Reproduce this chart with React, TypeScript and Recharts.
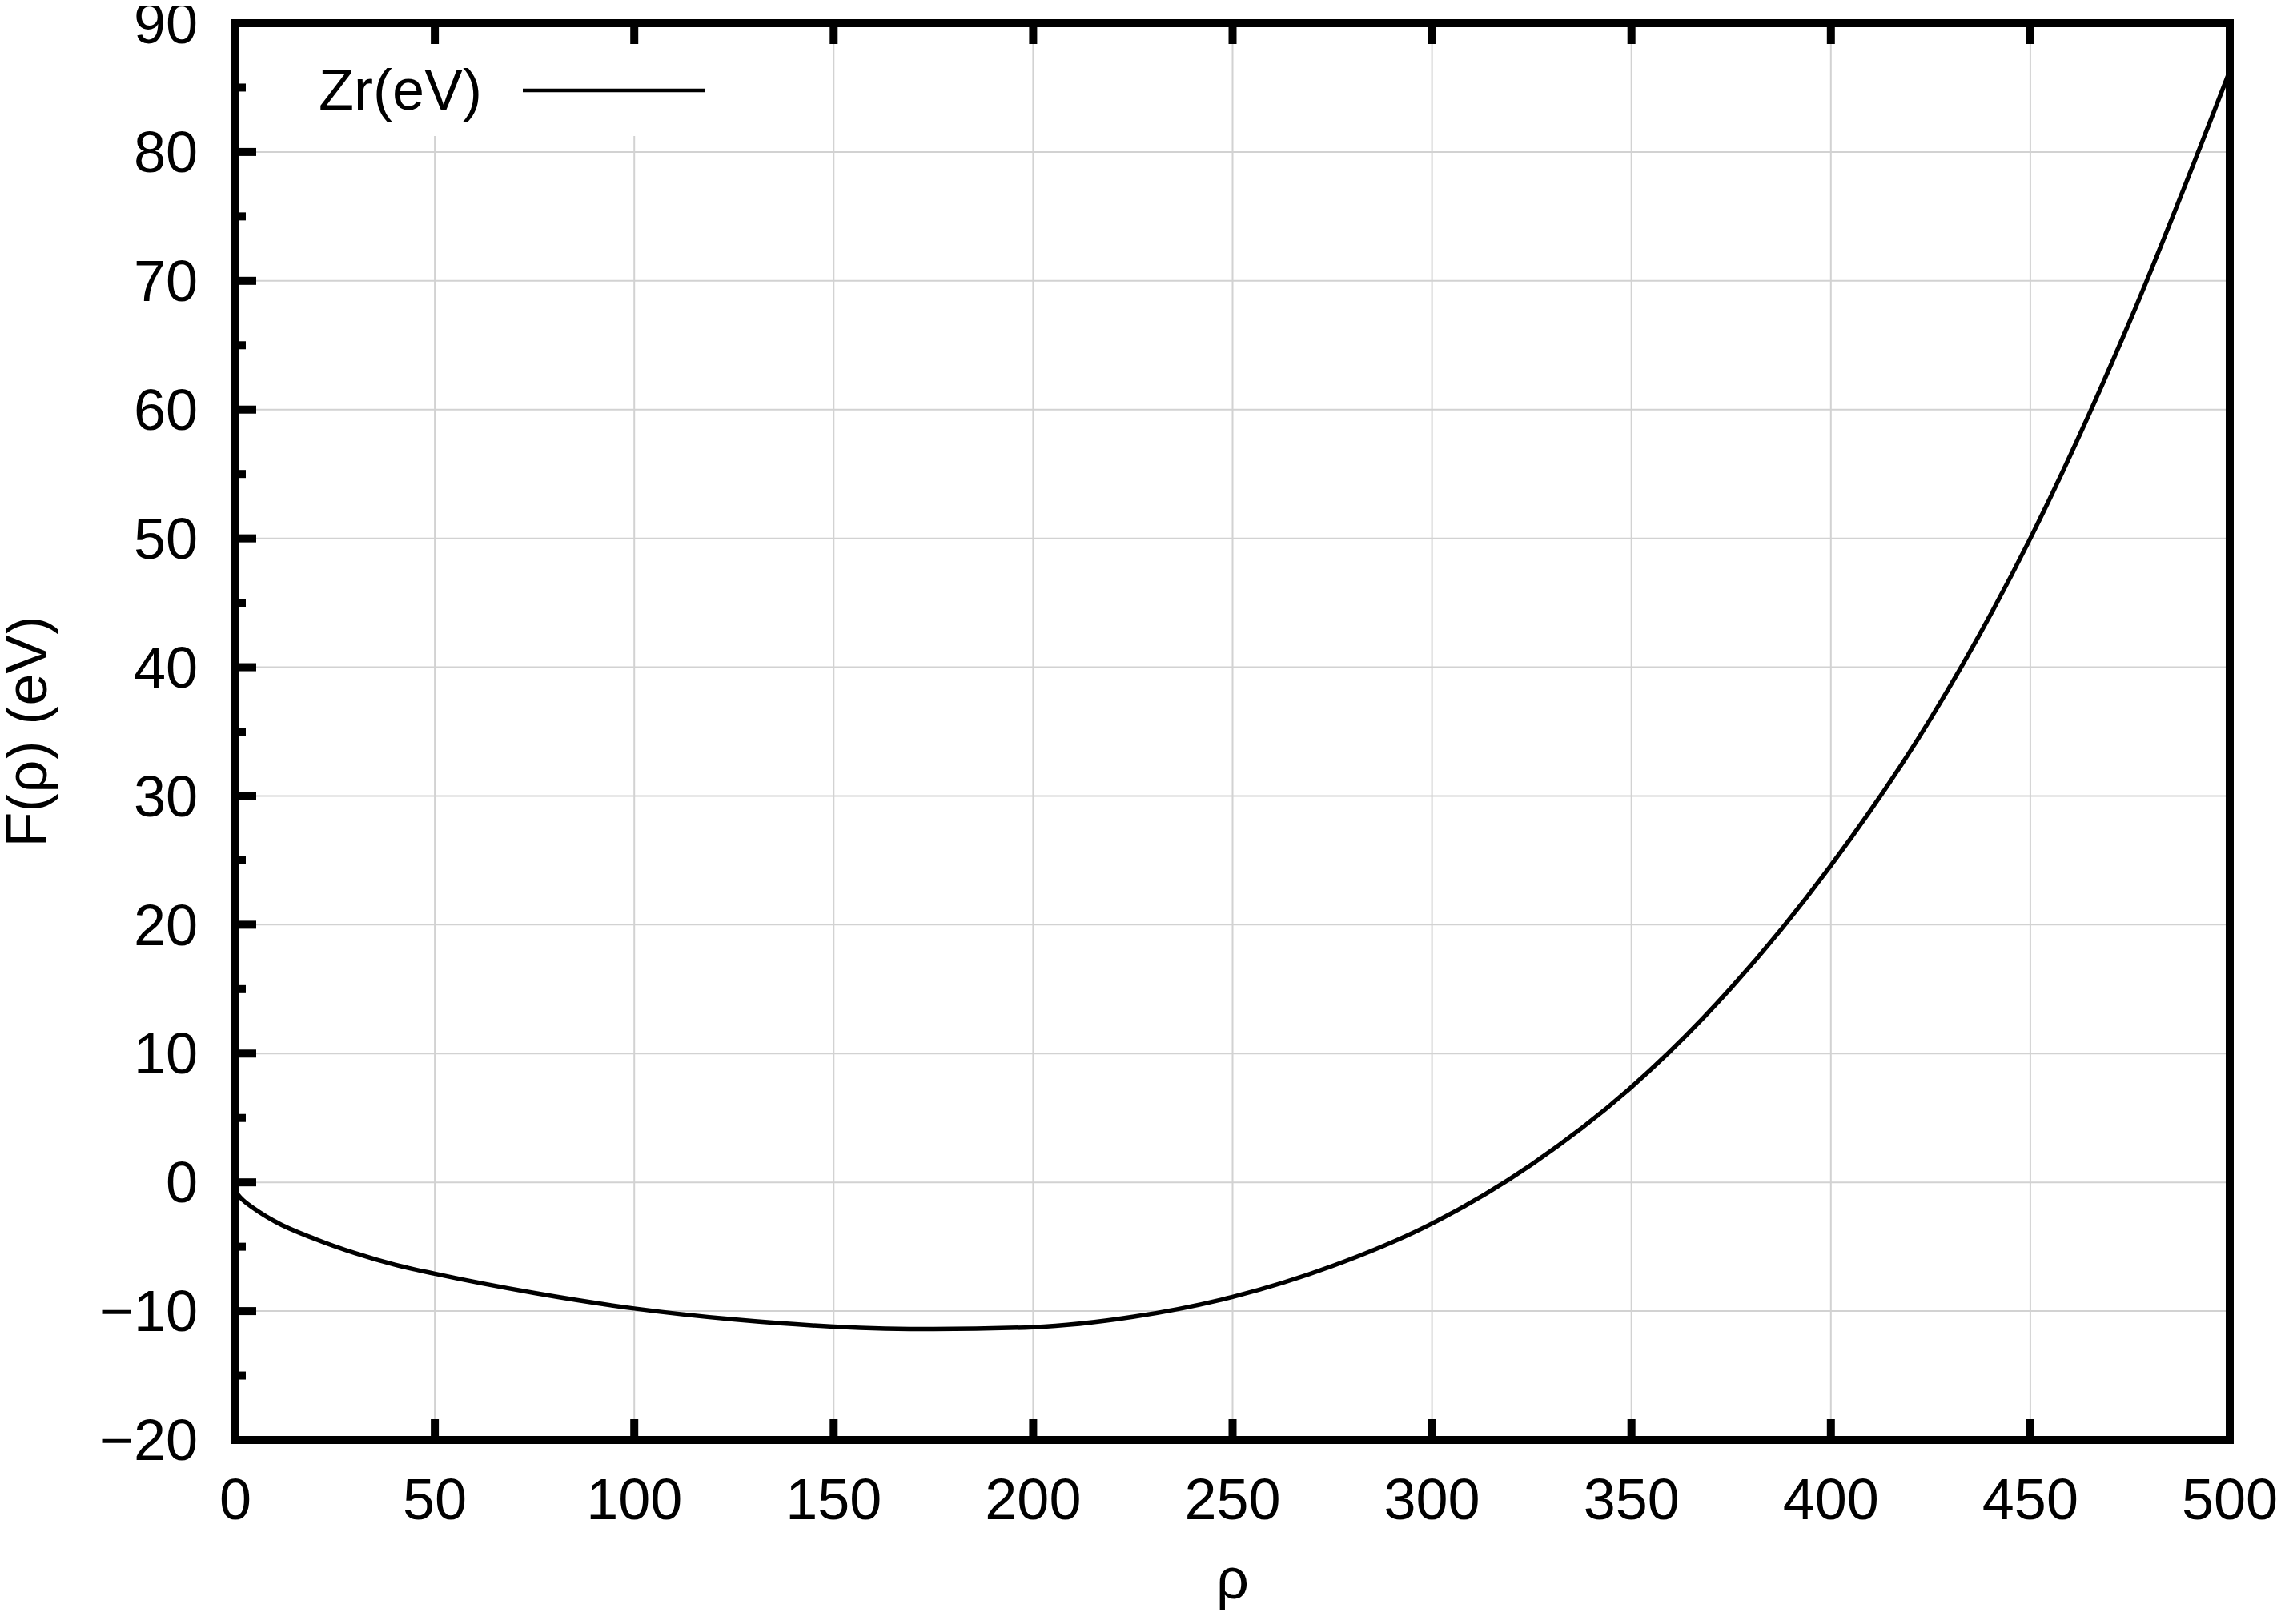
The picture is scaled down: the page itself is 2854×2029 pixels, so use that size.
import React from "react";
import { LineChart, Line, XAxis, YAxis, CartesianGrid, Legend } from "recharts";

// F(rho) for Zr
const rho = [0, 1, 2, 5, 10, 20, 30, 40, 50, 75, 100, 125, 150, 175, 200, 225, 250, 275, 300, 325, 350, 375, 400, 425, 450, 475, 500];
const fZr = [-0.7, -1.1, -1.4, -2.1, -3.05, -4.4, -5.5, -6.4, -7.1, -8.6, -9.8, -10.65, -11.2, -11.4, -11.25, -10.45, -8.9, -6.5, -3.2, 1.4, 7.4, 15.1, 24.6, 36.0, 50.0, 66.9, 86.3];

const xTicks = [0, 50, 100, 150, 200, 250, 300, 350, 400, 450, 500];
const yMajor = [-20, -10, 0, 10, 20, 30, 40, 50, 60, 70, 80, 90];
const yAllTicks = [-20, -15, -10, -5, 0, 5, 10, 15, 20, 25, 30, 35, 40, 45, 50, 55, 60, 65, 70, 75, 80, 85, 90];
const seriesName = "Zr(eV)";
const xLabel = "ρ";
const yLabel = "F(ρ) (eV)";

const rows = rho.map((r, i) => ({ rho: r, f: fZr[i] }));

const FONT = "'Liberation Sans', Arial, Helvetica, sans-serif";
const FS = 72;
const fmt = (v: number) => (v < 0 ? `\u2212${Math.abs(v)}` : String(v));

function LeftTick({ x, y, payload }: any) {
  const v = payload.value;
  const major = v % 10 === 0;
  return (
    <g>
      <line x1={x} y1={y} x2={x + (major ? 26 : 13)} y2={y} stroke="#000" strokeWidth={10} />
      {major && (
        <text x={x - 47} y={y} dy="0.35em" textAnchor="end" fontSize={FS} fontFamily={FONT} fill="#000">
          {fmt(v)}
        </text>
      )}
    </g>
  );
}

function BottomTick({ x, y, payload }: any) {
  return (
    <g>
      <line x1={x} y1={y} x2={x} y2={y - 26} stroke="#000" strokeWidth={10} />
      <text x={x} y={y + 74} dy="0.35em" textAnchor="middle" fontSize={FS} fontFamily={FONT} fill="#000">
        {fmt(payload.value)}
      </text>
    </g>
  );
}

function TopTick({ x, y }: any) {
  return <line x1={x} y1={y} x2={x} y2={y + 26} stroke="#000" strokeWidth={10} />;
}

function LegendBox({ payload }: any) {
  const name = payload && payload[0] ? payload[0].value : seriesName;
  return (
    <div style={{ width: 600, height: 115, background: "#fff" }}>
      <svg width={600} height={115} style={{ display: "block" }}>
        <text x={90} y={82} fontSize={FS} fontFamily={FONT} fill="#000">
          {name}
        </text>
        <line x1={345} y1={58} x2={572} y2={58} stroke="#000" strokeWidth={4.5} />
      </svg>
    </div>
  );
}

const frame = { stroke: "#000", strokeWidth: 10, strokeLinecap: "square" as const };

export default function App() {
  return (
    <LineChart width={2838} height={2013} data={rows} margin={{ top: 20, right: 60, bottom: 0, left: 0 }}>
      <CartesianGrid stroke="#d2d2d2" strokeWidth={2} horizontalValues={yMajor} />
      <XAxis
        type="number"
        dataKey="rho"
        domain={[0, 500]}
        ticks={xTicks}
        interval={0}
        height={222}
        axisLine={frame}
        tickLine={false}
        tickSize={0}
        tickMargin={0}
        tick={<BottomTick />}
        label={(p: any) => {
          const vb = p.viewBox || { x: 286, y: 1791, width: 2491, height: 222 };
          return (
            <text x={vb.x + vb.width / 2} y={vb.y + 198} textAnchor="middle" fontSize={FS} fontFamily={FONT} fill="#000">
              {xLabel}
            </text>
          );
        }}
      />
      <XAxis
        xAxisId="top"
        orientation="top"
        type="number"
        dataKey="rho"
        domain={[0, 500]}
        ticks={xTicks}
        interval={0}
        height={1}
        axisLine={frame}
        tickLine={false}
        tickSize={0}
        tickMargin={0}
        tick={<TopTick />}
      />
      <YAxis
        type="number"
        domain={[-20, 90]}
        ticks={yAllTicks}
        interval={0}
        width={286}
        axisLine={frame}
        tickLine={false}
        tickSize={0}
        tickMargin={0}
        tick={<LeftTick />}
        label={(p: any) => {
          const vb = p.viewBox || { x: 0, y: 21, width: 286, height: 1770 };
          const cx = vb.x + 50;
          const cy = vb.y + vb.height / 2;
          return (
            <text x={cx} y={cy} transform={`rotate(-90 ${cx} ${cy})`} textAnchor="middle" fontSize={FS} fontFamily={FONT} fill="#000">
              {yLabel}
            </text>
          );
        }}
      />
      <YAxis
        yAxisId="right"
        orientation="right"
        type="number"
        domain={[-20, 90]}
        width={1}
        axisLine={frame}
        tickLine={false}
        tick={false}
      />
      <Legend
        content={<LegendBox />}
        layout="horizontal"
        verticalAlign="middle"
        align="center"
        wrapperStyle={{ top: 47, left: 300, width: 600, height: 115 }}
      />
      <Line
        type="monotone"
        dataKey="f"
        name={seriesName}
        stroke="#000"
        strokeWidth={5.5}
        dot={false}
        activeDot={false}
        isAnimationActive={false}
      />
    </LineChart>
  );
}
